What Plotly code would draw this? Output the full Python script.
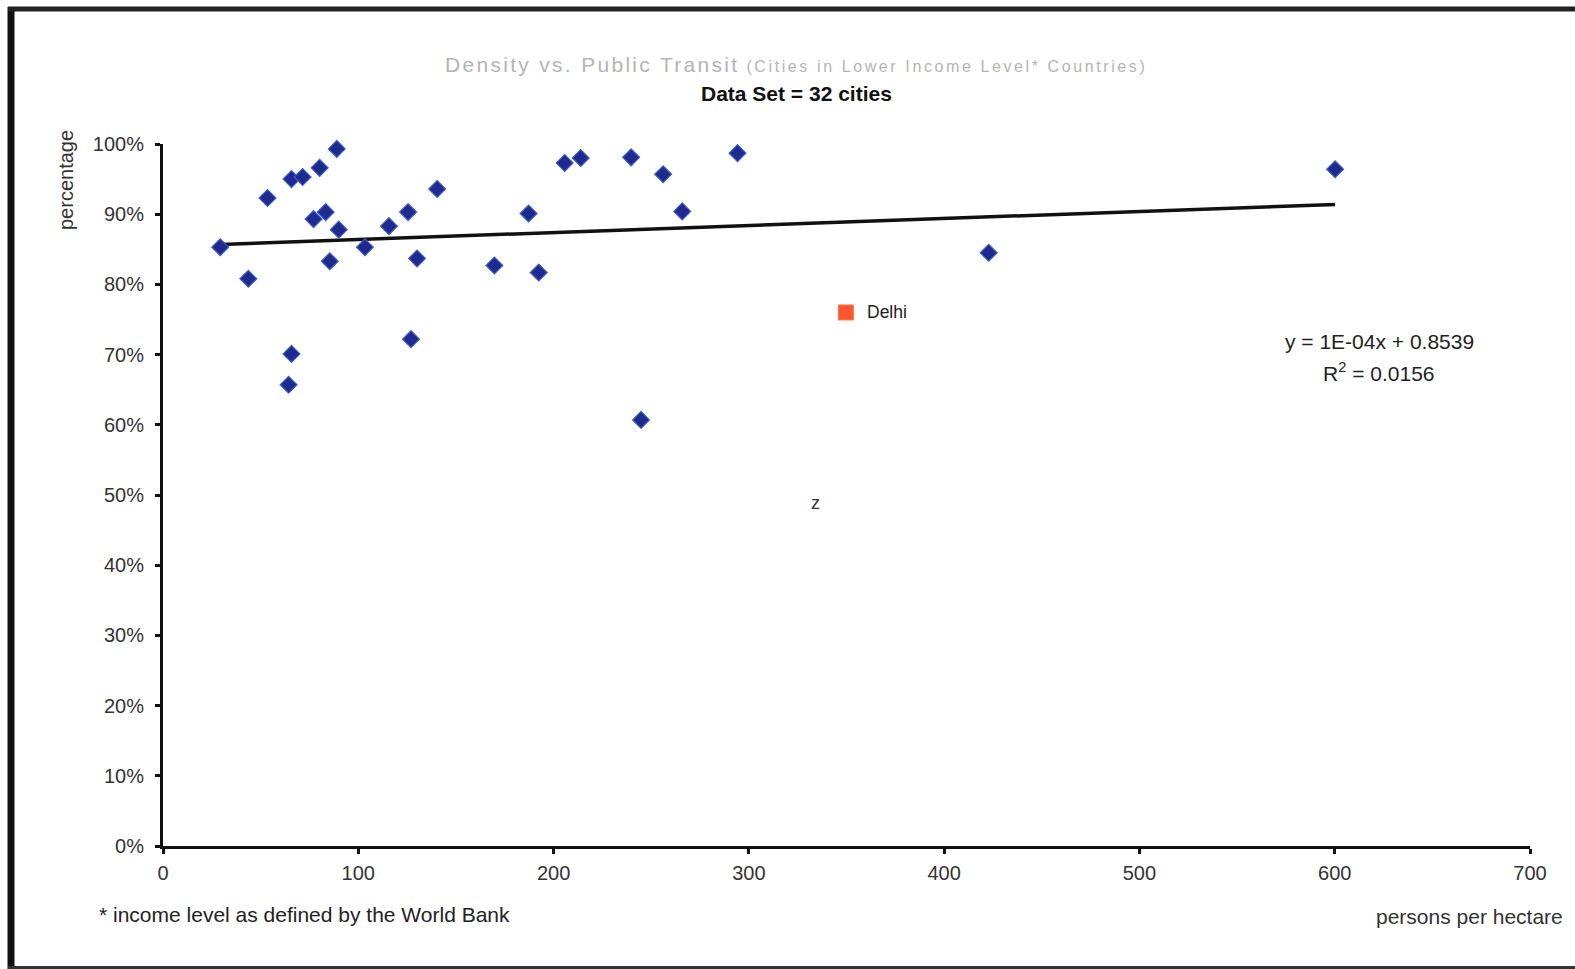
import plotly.graph_objects as go

# Population density (persons per hectare) and public transit share for cities
density = [29.3, 43.7, 53.5, 65.8, 71.5, 80.2, 89.0, 77.1, 83.3, 90.0, 85.4,
           65.8, 64.3, 103.4, 115.7, 125.5, 130.1, 127.0, 140.4, 169.7, 187.2,
           192.4, 205.7, 213.9, 239.7, 256.1, 265.9, 244.8, 294.2, 422.8, 600.2]
transit = [0.853, 0.808, 0.923, 0.950, 0.953, 0.966, 0.993, 0.893, 0.903, 0.878,
           0.833, 0.701, 0.657, 0.853, 0.883, 0.903, 0.837, 0.722, 0.936, 0.827,
           0.901, 0.817, 0.973, 0.980, 0.981, 0.957, 0.904, 0.607, 0.987, 0.845,
           0.964]

delhi_density = [349.7]
delhi_transit = [0.760]

# Linear trend reported on the chart
trend_slope = 0.0001
trend_intercept = 0.8539
trend_r2 = 0.0156

x_ticks = [0, 100, 200, 300, 400, 500, 600, 700]
y_ticks = [i / 10 for i in range(11)]

# Plot area in pixels (for placing paper-referenced annotations)
L, R, T, B = 163, 1530, 144, 846
W_PX, H_PX = 1575, 969


def px_x(x):
    return (x - L) / (R - L)


def px_y(y):
    return (B - y) / (B - T)


fig = go.Figure()

trend_x = [min(density), max(density)]
trend_y = [trend_slope * v + trend_intercept for v in trend_x]
fig.add_trace(go.Scatter(
    x=trend_x, y=trend_y, mode="lines",
    line=dict(color="#111111", width=3.5), hoverinfo="skip", showlegend=False))

fig.add_trace(go.Scatter(
    x=density, y=transit, mode="markers", cliponaxis=False,
    marker=dict(symbol="diamond", size=13, color="#1f2a8c",
                line=dict(color="#3a5fd0", width=1.2)),
    showlegend=False))

fig.add_trace(go.Scatter(
    x=delhi_density, y=delhi_transit, mode="markers",
    marker=dict(symbol="square", size=15, color="#ff5533",
                line=dict(color="#ff7a3a", width=1)),
    showlegend=False))

font_main = "Liberation Sans, Arial, sans-serif"


def note(px, py, text, size, color="#222222", **kw):
    d = dict(x=px_x(px), y=px_y(py), xref="paper", yref="paper",
             showarrow=False, xanchor="center", yanchor="middle", text=text,
             font=dict(family=font_main, size=size, color=color))
    d.update(kw)
    return d


annotations = [
    note(796, 64,
         "<span style='font-size:21px;letter-spacing:2.3px'>Density vs. Public Transit</span>"
         "<span style='font-size:16px;letter-spacing:2.6px'> (Cities in Lower Income Level* Countries)</span>",
         21, color="#b4b4b4"),
    note(796, 93, "<b>Data Set = 32 cities</b>", 21, color="#111111"),
    note(66, 180, "percentage", 20, color="#333333", textangle=-90),
    note(1469, 916, "persons per hectare", 21, color="#333333"),
    note(97, 914, "* income level as defined by the World Bank", 21,
         xanchor="left"),
    dict(x=delhi_density[0], y=delhi_transit[0], xref="x", yref="y",
         showarrow=False, xanchor="left", yanchor="middle", xshift=19,
         text="Delhi", font=dict(family=font_main, size=17.5, color="#222222")),
    note(1379, 341, f"y = 1E-04x + {trend_intercept}", 21),
    note(1379, 372, f"R<sup>2</sup> = {trend_r2}", 21),
    note(815, 503, "z", 18, color="#333333"),
]

# Outer frame around the chart
shapes = [
    dict(type="line", xref="paper", yref="paper", x0=px_x(11), x1=px_x(11),
         y0=px_y(7), y1=px_y(975), line=dict(color="#111111", width=7)),
    dict(type="line", xref="paper", yref="paper", x0=px_x(8), x1=px_x(1600),
         y0=px_y(9), y1=px_y(9), line=dict(color="#222222", width=5)),
    dict(type="line", xref="paper", yref="paper", x0=px_x(8), x1=px_x(1600),
         y0=px_y(968), y1=px_y(968), line=dict(color="#333333", width=4)),
]

fig.update_layout(
    width=W_PX, height=H_PX,
    margin=dict(l=L, r=W_PX - R, t=T, b=H_PX - B),
    paper_bgcolor="white", plot_bgcolor="white",
    font=dict(family=font_main, color="#333333"),
    annotations=annotations, shapes=shapes, showlegend=False,
)

fig.update_xaxes(
    range=[0, 700], tickvals=x_ticks, showgrid=False, zeroline=False,
    showline=True, linecolor="#111111", linewidth=3,
    ticks="outside", ticklen=5, tickwidth=3, tickcolor="#111111",
    ticklabelstandoff=2, tickfont=dict(size=20, color="#333333"))

fig.update_yaxes(
    range=[0, 1], tickvals=y_ticks, tickformat=".0%", showgrid=False,
    zeroline=False, showline=True, linecolor="#111111", linewidth=3,
    ticks="outside", ticklen=5, tickwidth=3, tickcolor="#111111",
    ticklabelstandoff=7, tickfont=dict(size=20, color="#333333"))

fig.write_html("out.html")
